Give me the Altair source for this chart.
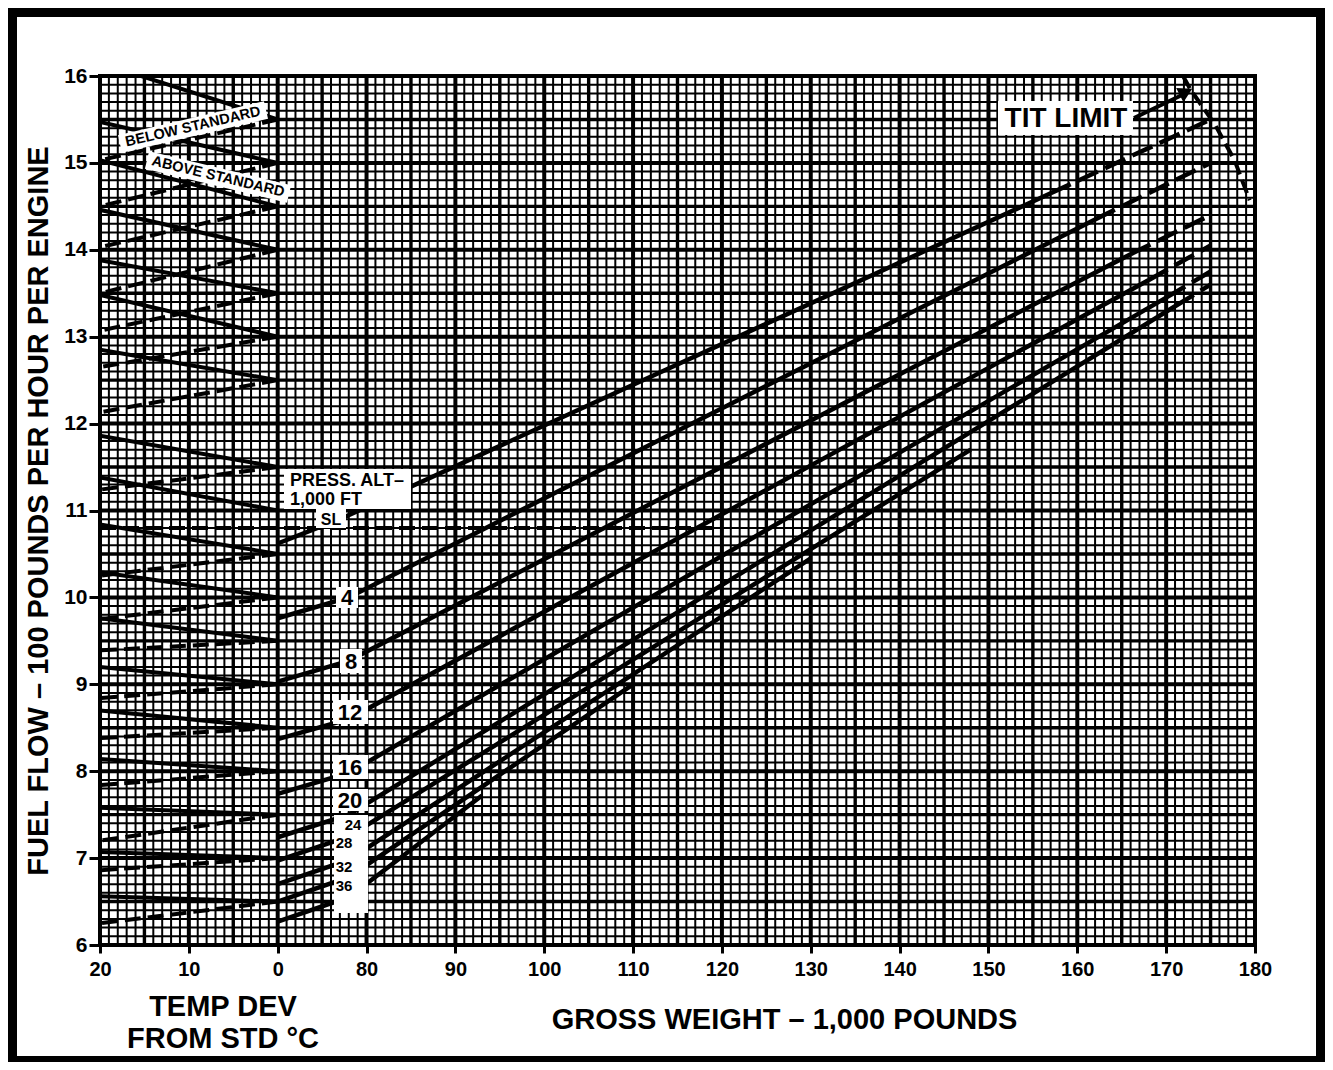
import altair as alt
import pandas as pd
import numpy as np

W, H = 1155, 869
FONT = "Liberation Sans, Arial, Helvetica, sans-serif"

# ---------------- data ----------------
# temperature-deviation guide lines: fuel flow at 0 degC (std) and at 20 degC
above_at0 = [15.5, 15.0, 14.5, 14.0, 13.5, 13.0, 12.5, 11.5, 11.0, 10.5, 10.0, 9.5, 9.0, 8.5, 8.0, 7.5, 7.0, 6.5]
above_at20 = [16.15, 15.47, 15.03, 14.46, 13.88, 13.48, 12.85, 11.86, 11.38, 10.84, 10.29, 9.76, 9.2, 8.7, 8.14, 7.58, 7.07, 6.56]
below_at0 = [15.5, 15.0, 14.5, 14.0, 13.5, 13.0, 12.5, 11.5, 10.5, 10.0, 9.5, 9.0, 8.5, 8.0, 7.5, 7.0, 6.5]
below_at20 = [15.03, 14.5, 14.03, 13.5, 13.07, 12.65, 12.13, 11.24, 10.25, 9.75, 9.39, 8.84, 8.38, 7.84, 7.2, 6.86, 6.25]

# horizontal reading line (fuel flow, gross weight where it stops)
ref_flow = 10.8
ref_weight_end = 118.9

# pressure altitude lines (gross weight 1,000 lb, fuel flow 100 lb/hr)
alt_names = ["SL", "4", "8", "12", "16", "20", "24", "28", "32", "36"]
solid_w = [[70, 77, 157], [70, 78, 162], [70, 78, 166], [70, 78, 168], [70, 78, 170],
           [70, 78, 171], [70, 78, 148], [70, 78, 130], [70, 78, 110], [70, 78, 93]]
solid_v = [[10.62, 10.9, 14.65], [9.76, 10.0, 14.35], [9.03, 9.27, 13.95], [8.37, 8.6, 13.65],
           [7.74, 7.98, 13.45], [7.24, 7.5, 13.35], [6.97, 7.25, 11.7], [6.70, 6.98, 10.45],
           [6.50, 6.78, 9.0], [6.27, 6.55, 7.72]]
dash_w = [[157, 175], [162, 175], [166, 175], [168, 175], [170, 175], [171, 175], [], [], [], []]
dash_v = [[14.65, 15.5], [14.35, 15.0], [13.95, 14.4], [13.65, 14.05], [13.45, 13.75], [13.35, 13.6],
          [], [], [], []]

# TIT limit curve
tit_w = [171.9, 172.7, 175.5, 177.7, 179.4]
tit_v = [16.0, 15.85, 15.44, 15.03, 14.57]

# ---------------- helpers ----------------
def tx(t):  # temp deviation -> chart x
    return 20 - t

def wx(w):  # gross weight -> chart x
    return w - 50

def px2X(px):
    return (px - 100) * 130.0 / W

def py2V(py):
    return 16 - (py - 76) * 10.0 / H

xs = alt.Scale(domain=[0, 130], nice=False, zero=False)
ys = alt.Scale(domain=[6, 16], nice=False, zero=False)


def XE(axis=alt.Undefined, field="X"):
    return alt.X(f"{field}:Q", scale=xs, axis=axis)


def YE(axis=alt.Undefined, field="V"):
    return alt.Y(f"{field}:Q", scale=ys, axis=axis)


x_axis = alt.Axis(
    values=list(range(0, 131, 10)),
    labelExpr="datum.value <= 20 ? (20 - datum.value) + '' : (datum.value + 50) + ''",
    labelFont=FONT, labelFontSize=20, labelFontWeight="bold", labelColor="black",
    labelFlush=False, labelOverlap=False, labelPadding=6,
    tickSize=8, tickWidth=3, tickColor="black", domain=False, grid=False,
    title="GROSS WEIGHT \u2013 1,000 POUNDS", titleFont=FONT, titleFontSize=29,
    titleFontWeight="bold", titleColor="black", titleX=684, titleY=83,
    titleBaseline="alphabetic", titleAlign="center", zindex=3,
)
y_axis = alt.Axis(
    values=list(range(6, 17)), format="d",
    labelFont=FONT, labelFontSize=21, labelFontWeight="bold", labelColor="black",
    labelPadding=2, tickSize=11, tickWidth=3, tickColor="black", domain=False, grid=False,
    title="FUEL FLOW \u2013 100 POUNDS PER HOUR PER ENGINE", titleFont=FONT, titleFontSize=29,
    titleFontWeight="bold", titleColor="black", titlePadding=10, zindex=3,
)

# axis carrier layer (invisible points at the domain corners)
axes_layer = alt.Chart(pd.DataFrame({"X": [0, 130], "V": [6, 16]})).mark_point(opacity=0).encode(
    x=XE(axis=x_axis), y=YE(axis=y_axis))

# ---------------- grid ----------------
vx = list(range(0, 131))
minor_x = pd.DataFrame({"X": [v for v in vx if v % 5]})
mid_x = pd.DataFrame({"X": [v for v in vx if v % 5 == 0 and v % 10]})
maj_x = pd.DataFrame({"X": [v for v in vx if v % 10 == 0]})
ks = list(range(101))
minor_y = pd.DataFrame({"V": [round(6 + k * 0.1, 1) for k in ks if k % 5]})
mid_y = pd.DataFrame({"V": [round(6 + k * 0.1, 1) for k in ks if k % 5 == 0 and k % 10]})
maj_y = pd.DataFrame({"V": [round(6 + k * 0.1, 1) for k in ks if k % 10 == 0]})

g_minor_x = alt.Chart(minor_x).mark_rule(color="black", strokeWidth=2).encode(x=XE())
g_minor_y = alt.Chart(minor_y).mark_rule(color="black", strokeWidth=2).encode(y=YE())
g_mid_x = alt.Chart(mid_x).mark_rule(color="black", strokeWidth=3.4).encode(x=XE())
g_mid_y = alt.Chart(mid_y).mark_rule(color="black", strokeWidth=3.4).encode(y=YE())
g_maj_x = alt.Chart(maj_x).mark_rule(color="black", strokeWidth=4).encode(x=XE())
g_maj_y = alt.Chart(maj_y).mark_rule(color="black", strokeWidth=4).encode(y=YE())

# ---------------- temp dev lines ----------------
rows = []
for i, (a, b) in enumerate(zip(above_at0, above_at20)):
    rows += [dict(id=f"a{i}", X=tx(0), V=a, o=0), dict(id=f"a{i}", X=tx(20), V=b, o=1)]
df_above = pd.DataFrame(rows)
rows = []
for i, (a, b) in enumerate(zip(below_at0, below_at20)):
    rows += [dict(id=f"b{i}", X=tx(0), V=a, o=0), dict(id=f"b{i}", X=tx(20), V=b, o=1)]
df_below = pd.DataFrame(rows)
df_ref = pd.DataFrame([dict(id="r", X=tx(20), V=ref_flow, o=0),
                       dict(id="r", X=wx(ref_weight_end), V=ref_flow, o=1)])

l_above = alt.Chart(df_above).mark_line(color="black", strokeWidth=4, clip=True).encode(
    x=XE(), y=YE(), detail="id:N", order="o:Q")
l_below = alt.Chart(df_below).mark_line(color="black", strokeWidth=4, strokeDash=[16, 7], clip=True).encode(
    x=XE(), y=YE(), detail="id:N", order="o:Q")
l_ref = alt.Chart(df_ref).mark_line(color="black", strokeWidth=4, strokeDash=[16, 7]).encode(
    x=XE(), y=YE(), detail="id:N", order="o:Q")

# ---------------- altitude lines ----------------
rows = []
for n, ws, vs in zip(alt_names, solid_w, solid_v):
    for j, (w, v) in enumerate(zip(ws, vs)):
        rows.append(dict(id=n, X=wx(w), V=v, o=j))
df_solid = pd.DataFrame(rows)
rows = []
for n, ws, vs in zip(alt_names, dash_w, dash_v):
    for j, (w, v) in enumerate(zip(ws, vs)):
        rows.append(dict(id=n, X=wx(w), V=v, o=j))
df_dash = pd.DataFrame(rows)
df_tit = pd.DataFrame({"id": "tit", "X": [wx(w) for w in tit_w], "V": tit_v, "o": list(range(len(tit_w)))})

l_solid = alt.Chart(df_solid).mark_line(color="black", strokeWidth=4.5).encode(
    x=XE(), y=YE(), detail="id:N", order="o:Q")
l_dash = alt.Chart(df_dash).mark_line(color="black", strokeWidth=4.5, strokeDash=[22, 8]).encode(
    x=XE(), y=YE(), detail="id:N", order="o:Q")
l_tit = alt.Chart(df_tit).mark_line(color="black", strokeWidth=4, strokeDash=[14, 6], clip=True).encode(
    x=XE(), y=YE(), detail="id:N", order="o:Q")

# ---------------- annotation boxes & labels ----------------
boxes_px = [
    (284, 469, 411, 509),   # PRESS. ALT
    (316, 509, 346, 528),   # SL
    (336, 587, 358, 608),   # 4
    (340, 649, 362, 673),   # 8
    (333, 700, 368, 724),   # 12
    (333, 755, 368, 779),   # 16
    (333, 789, 368, 811),   # 20
    (334, 815, 368, 913),   # 24..36
    (998, 101, 1133, 135),  # TIT LIMIT
]
df_boxes = pd.DataFrame([dict(X=px2X(a), X2=px2X(c), V=py2V(b), V2=py2V(d)) for a, b, c, d in boxes_px])
r_boxes = alt.Chart(df_boxes).mark_rect(color="white").encode(
    x=XE(), x2="X2:Q", y=YE(), y2="V2:Q")

labels_px = [
    ("PRESS. ALT\u2013", 290, 481, 18, "left"),
    ("1,000 FT", 290, 500, 18, "left"),
    ("SL", 331, 519.5, 16, "center"),
    ("4", 347, 598, 22, "center"),
    ("8", 351, 662, 22, "center"),
    ("12", 350, 713, 22, "center"),
    ("16", 350, 768, 22, "center"),
    ("20", 350, 801, 22, "center"),
    ("24", 353, 825, 15, "center"),
    ("28", 344, 843, 15, "center"),
    ("32", 344, 867, 15, "center"),
    ("36", 344, 886, 15, "center"),
    ("TIT LIMIT", 1066, 119, 28, "center"),
]
text_layers = []
for align in ["left", "center"]:
    sub = [dict(t=t, X=px2X(x), V=py2V(y), fs=fs) for t, x, y, fs, a in labels_px if a == align]
    text_layers.append(
        alt.Chart(pd.DataFrame(sub)).mark_text(font=FONT, fontWeight="bold", color="black",
                                               align=align, baseline="middle").encode(
            x=XE(), y=YE(), text="t:N", size=alt.Size("fs:Q", scale=None)))

# rotated STANDARD labels with white bands
bands_px = [("below", 120, 144, 266, 110), ("above", 147, 160, 289, 194)]
rows = []
for n, a, b, c, d in bands_px:
    rows += [dict(id=n, X=px2X(a), V=py2V(b), o=0), dict(id=n, X=px2X(c), V=py2V(d), o=1)]
l_bands = alt.Chart(pd.DataFrame(rows)).mark_line(color="white", strokeWidth=18, strokeCap="butt").encode(
    x=XE(), y=YE(), detail="id:N", order="o:Q")
df_rot = pd.DataFrame([
    dict(t="BELOW STANDARD", X=px2X(193), V=py2V(127), ang=347),
    dict(t="ABOVE STANDARD", X=px2X(218), V=py2V(177), ang=13.5),
])
t_rot = alt.Chart(df_rot).mark_text(font=FONT, fontWeight="bold", fontSize=14.5, color="black",
                                    align="center", baseline="middle").encode(
    x=XE(), y=YE(), text="t:N", angle=alt.Angle("ang:Q", scale=None))

# TIT limit arrow
df_arrow = pd.DataFrame([dict(id="ar", X=px2X(1134), V=py2V(118), o=0),
                         dict(id="ar", X=px2X(1182), V=py2V(95), o=1)])
l_arrow = alt.Chart(df_arrow).mark_line(color="black", strokeWidth=4).encode(
    x=XE(), y=YE(), detail="id:N", order="o:Q")
p_head = alt.Chart(pd.DataFrame([dict(X=px2X(1186), V=py2V(92))])).mark_point(
    shape="triangle-up", filled=True, color="black", opacity=1, size=260, angle=63).encode(x=XE(), y=YE())

# temp dev axis title (two lines)
t_td = []
for t, dy in [("TEMP DEV", H + 62), ("FROM STD \u00b0C", H + 94)]:
    t_td.append(alt.Chart(pd.DataFrame([dict(t=t, X=px2X(223))])).mark_text(
        font=FONT, fontWeight="bold", fontSize=29, color="black", align="center", baseline="middle").encode(
        x=XE(), y=alt.value(int(dy)), text="t:N"))

# outer frame
frame = alt.Chart(pd.DataFrame({"a": [0]})).mark_rect(
    fillOpacity=0, stroke="black", strokeWidth=12).encode(
    x=alt.value(-89), x2=alt.value(W + 67), y=alt.value(-65), y2=alt.value(H + 117))

chart = alt.layer(
    axes_layer,
    g_minor_x, g_minor_y, g_mid_x, g_mid_y, g_maj_x, g_maj_y,
    l_above, l_below, l_ref, l_solid, l_dash, l_tit,
    r_boxes, l_bands, *text_layers, t_rot, l_arrow, p_head, *t_td, frame,
).properties(
    width=W, height=H,
    padding={"left": 92, "top": 68, "right": 70, "bottom": 117},
    autosize=alt.AutoSizeParams(type="none"),
    background="white",
).configure_view(stroke="black", strokeWidth=4)

chart.save("out.html", embed_options={"renderer": "svg", "actions": False})
